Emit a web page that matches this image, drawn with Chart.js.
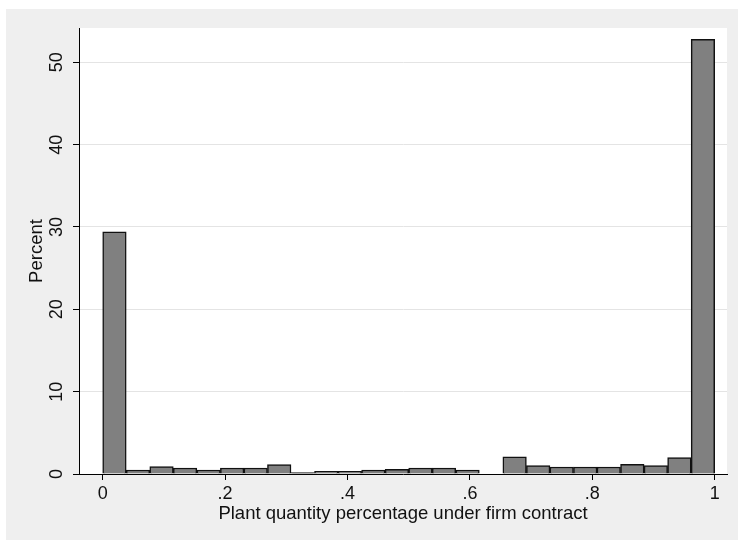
<!DOCTYPE html>
<html>
<head>
<meta charset="utf-8">
<script src="https://cdn.jsdelivr.net/npm/chart.js@4/dist/chart.umd.min.js"></script>
<style>
  html, body { margin: 0; padding: 0; background: #fff; }
  #wrap { position: relative; width: 738px; height: 542px; }
  #bg { position: absolute; left: 6px; top: 9px; width: 732px; height: 531px; background: #efefef; }
  #chart { position: absolute; left: 0; top: 0; }
</style>
</head>
<body>
<div id="wrap">
  <div id="bg"></div>
  <canvas id="chart" width="738" height="542"></canvas>
</div>
<script>
// histogram: 26 equal bins on [0, 1]
const nBins = 26;
const percents = [29.4, 0.49, 0.89, 0.73, 0.49, 0.73, 0.73, 1.13, 0.16, 0.32, 0.32, 0.49, 0.57,
                  0.73, 0.73, 0.49, 0, 2.1, 1.01, 0.85, 0.85, 0.85, 1.17, 1.01, 1.98, 52.8];
const xTicks = [0, 0.2, 0.4, 0.6, 0.8, 1];
const xTickLabels = ["0", ".2", ".4", ".6", ".8", "1"];
const yTicks = [0, 10, 20, 30, 40, 50];

const xTitle = "Plant quantity percentage under firm contract";
const yTitle = "Percent";

const binCenters = percents.map((_, i) => (i + 0.5) / nBins);
const points = binCenters.map((x, i) => ({ x: x, y: percents[i] }));

const FONT = "'Liberation Sans', Arial, Helvetica, sans-serif";
const textColor = "#111";

// white plot region
const plotBg = {
  id: "plotBg",
  beforeDraw(chart) {
    const { ctx, chartArea: a } = chart;
    ctx.save();
    ctx.fillStyle = "#fff";
    ctx.fillRect(a.left, a.top, a.right - a.left, a.bottom - a.top);
    ctx.restore();
  }
};

const ctx = document.getElementById("chart").getContext("2d");
new Chart(ctx, {
  type: "bar",
  data: {
    datasets: [{
      data: points,
      backgroundColor: "#808080",
      borderColor: "#111",
      borderWidth: 1.5,
      barPercentage: 1,
      categoryPercentage: 1
    }]
  },
  options: {
    responsive: false,
    animation: false,
    layout: { padding: { left: 0, top: 28, right: 11, bottom: 0 } },
    plugins: { legend: { display: false }, tooltip: { enabled: false } },
    scales: {
      x: {
        type: "linear",
        min: -0.0387,
        max: 1.0201,
        offset: false,
        afterFit(s) { s.height = 68; },
        afterBuildTicks(s) { s.ticks = xTicks.map(v => ({ value: v })); },
        border: { color: "#000", width: 1 },
        grid: { offset: false, drawOnChartArea: false, drawTicks: true, tickLength: 6, tickColor: "#000", tickWidth: 1 },
        ticks: {
          padding: 3,
          maxRotation: 0,
          autoSkip: false,
          color: textColor,
          font: { family: FONT, size: 18 },
          callback: (v) => xTickLabels[xTicks.indexOf(v)]
        },
        title: {
          display: true,
          text: xTitle,
          color: textColor,
          font: { family: FONT, size: 18.5 },
          padding: { top: 0, bottom: 17.4 }
        }
      },
      y: {
        min: 0,
        max: 54.17,
        afterFit(s) { s.width = 79; },
        afterBuildTicks(s) { s.ticks = yTicks.map(v => ({ value: v })); },
        border: { color: "#000", width: 1 },
        grid: { color: "#e4e4e4", lineWidth: 1, tickLength: 6, tickColor: "#000", tickWidth: 1 },
        ticks: {
          minRotation: 90,
          maxRotation: 90,
          crossAlign: "center",
          padding: 6,
          color: textColor,
          font: { family: FONT, size: 18 }
        },
        title: {
          display: true,
          text: yTitle,
          color: textColor,
          font: { family: FONT, size: 18.5 },
          padding: { top: 26, bottom: 0 }
        }
      }
    }
  },
  plugins: [plotBg]
});
</script>
</body>
</html>
